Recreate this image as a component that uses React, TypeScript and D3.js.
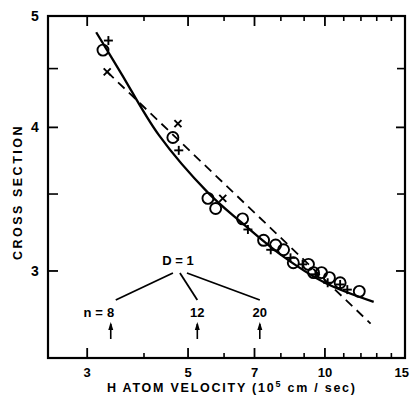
import React from "react";
import * as d3 from "d3";

// ---- data ----
const circleV = [3.25, 4.63, 5.53, 5.75, 6.59, 7.33, 7.79, 8.11, 8.52, 9.2, 9.44, 9.83, 10.23, 10.8, 11.9];
const circleS = [4.67, 3.92, 3.47, 3.4, 3.33, 3.19, 3.16, 3.13, 3.05, 3.04, 2.99, 2.99, 2.96, 2.93, 2.88];
const plusV = [3.34, 4.77, 6.77, 7.6, 8.4, 8.93, 9.53, 10.14, 10.8, 11.2];
const plusS = [4.76, 3.82, 3.26, 3.13, 3.08, 3.04, 2.98, 2.93, 2.92, 2.89];
const crossV = [3.32, 4.75, 5.96];
const crossS = [4.47, 4.03, 3.47];
const solidV = [3.14, 3.56, 4.31, 5.53, 6.53, 7.99, 10.0, 12.8];
const solidS = [4.84, 4.46, 3.94, 3.51, 3.31, 3.1, 2.93, 2.82];
const dashV = [3.32, 12.6];
const dashS = [4.47, 2.7];
const nLabels = ["8", "12", "20"];
const nVel = [3.38, 5.24, 7.19];
const xMajor = [3, 5, 7, 10, 15];
const xMinor = [4, 6, 8, 9, 11, 12, 13, 14];
const yMajor = [3, 4, 5];
const yMinor = [3.5, 4.5];

const W = 410;
const H = 396;
const L = 48, R = 405, T = 16, B = 358;
const FONT = "'Liberation Sans', Arial, sans-serif";

export default function App() {
  const x = d3.scaleLog().domain([2.46, 15]).range([L, R]);
  const y = d3.scaleLog().domain([2.52, 5]).range([B, T]);

  const solidPts: [number, number][] = solidV.map((v, i) => [x(v), y(solidS[i])]);
  const solidPath = d3.line().curve(d3.curveCatmullRom.alpha(0.5))(solidPts) || "";
  const dashPath = d3.line()(dashV.map((v, i) => [x(v), y(dashS[i])] as [number, number])) || "";

  const dX = x(4.75); // D = 1 label center
  const labY = 317;

  return (
    <svg width={W} height={H} style={{ position: "absolute", left: 0, top: 0, background: "#fff" }} fontFamily={FONT}>
      <rect x={0} y={0} width={W} height={H} fill="#fff" />
      {/* frame */}
      <rect x={L} y={T} width={R - L} height={B - T} fill="none" stroke="#000" strokeWidth={2.2} />
      {/* x ticks */}
      {xMajor.map((t, i) => (
        <g key={"xM" + t}>
          <line x1={x(t)} x2={x(t)} y1={B} y2={B - 10} stroke="#000" strokeWidth={1.8} />
          <line x1={x(t)} x2={x(t)} y1={T} y2={T + 10} stroke="#000" strokeWidth={1.8} />
          <text x={i === xMajor.length - 1 ? 409 : x(t)} y={377} textAnchor={i === xMajor.length - 1 ? "end" : "middle"} fontSize={13} fontWeight="bold">{t}</text>
        </g>
      ))}
      {xMinor.map((t) => (
        <g key={"xm" + t}>
          <line x1={x(t)} x2={x(t)} y1={B} y2={B - 5} stroke="#000" strokeWidth={1.6} />
          <line x1={x(t)} x2={x(t)} y1={T} y2={T + 5} stroke="#000" strokeWidth={1.6} />
        </g>
      ))}
      {/* y ticks */}
      {yMajor.map((t) => (
        <g key={"yM" + t}>
          <line x1={L} x2={L + 10} y1={y(t)} y2={y(t)} stroke="#000" strokeWidth={1.8} />
          <line x1={R} x2={R - 9} y1={y(t)} y2={y(t)} stroke="#000" strokeWidth={1.8} />
          <text x={35} y={y(t) + 5} textAnchor="middle" fontSize={14} fontWeight="bold">{t}</text>
        </g>
      ))}
      {yMinor.map((t) => (
        <g key={"ym" + t}>
          <line x1={L} x2={L + 10} y1={y(t)} y2={y(t)} stroke="#000" strokeWidth={1.6} />
          <line x1={R} x2={R - 8} y1={y(t)} y2={y(t)} stroke="#000" strokeWidth={1.6} />
        </g>
      ))}
      {/* axis titles */}
      <text x={107} y={392} fontSize={12.5} fontWeight="bold" textLength={248} lengthAdjust="spacing">
        H ATOM VELOCITY (10<tspan dy={-5} fontSize={9}>5</tspan><tspan dy={5}> cm / sec)</tspan>
      </text>
      <text transform={`translate(22,192) rotate(-90)`} textAnchor="middle" fontSize={12.5} fontWeight="bold" letterSpacing={2.5}>
        CROSS SECTION
      </text>
      {/* curves */}
      <path d={dashPath} fill="none" stroke="#000" strokeWidth={1.8} strokeDasharray="9 6" />
      <path d={solidPath} fill="none" stroke="#000" strokeWidth={2.3} />
      {/* markers */}
      {circleV.map((v, i) => (
        <circle key={"c" + i} cx={x(v)} cy={y(circleS[i])} r={5.5} fill="none" stroke="#000" strokeWidth={1.9} />
      ))}
      {plusV.map((v, i) => {
        const cx = x(v), cy = y(plusS[i]);
        return (
          <g key={"p" + i} stroke="#000" strokeWidth={1.9}>
            <line x1={cx - 4.5} x2={cx + 4.5} y1={cy} y2={cy} />
            <line x1={cx} x2={cx} y1={cy - 4.5} y2={cy + 4.5} />
          </g>
        );
      })}
      {crossV.map((v, i) => {
        const cx = x(v), cy = y(crossS[i]);
        return (
          <g key={"x" + i} stroke="#000" strokeWidth={1.9}>
            <line x1={cx - 3.5} x2={cx + 3.5} y1={cy - 3.5} y2={cy + 3.5} />
            <line x1={cx - 3.5} x2={cx + 3.5} y1={cy + 3.5} y2={cy - 3.5} />
          </g>
        );
      })}
      {/* annotation */}
      <text x={dX} y={265} textAnchor="middle" fontSize={13} fontWeight="bold">D = 1</text>
      {nVel.map((v, i) => {
        const px = x(v);
        return (
          <g key={"n" + i}>
            <line x1={dX - 5 + i * 7} y1={273} x2={px + (i === 0 ? 5 : 0)} y2={300} stroke="#000" strokeWidth={1.8} />
            <text x={px} y={labY} textAnchor="middle" fontSize={13} fontWeight="bold">{nLabels[i]}</text>
            <line x1={px} x2={px} y1={324} y2={339} stroke="#000" strokeWidth={1.6} />
            <path d={`M${px - 2.5},${330} L${px},${322} L${px + 2.5},${330} Z`} fill="#000" />
          </g>
        );
      })}
      <text x={x(nVel[0]) - 8} y={labY} textAnchor="end" fontSize={13} fontWeight="bold">n =</text>
    </svg>
  );
}
